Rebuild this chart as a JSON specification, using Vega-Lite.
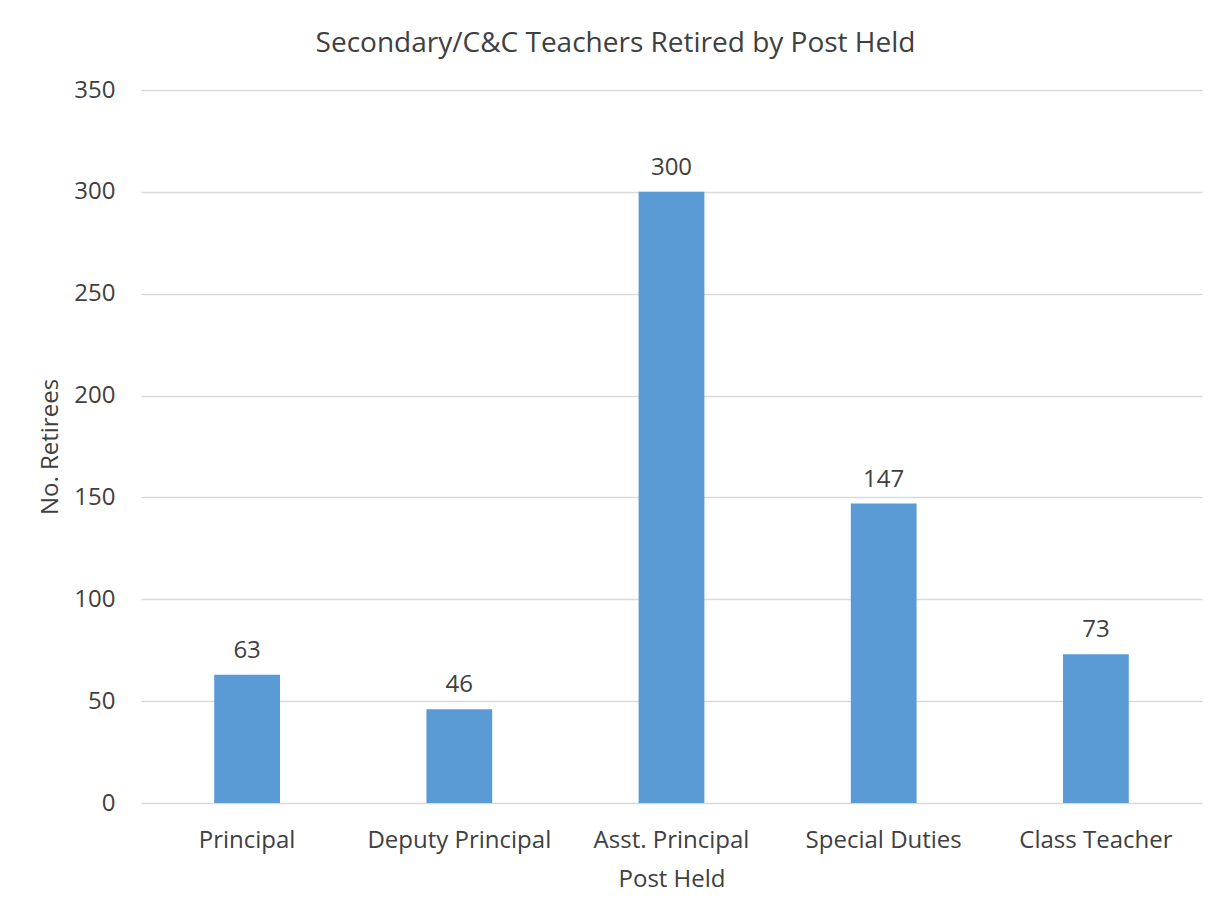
{
  "$schema": "https://vega.github.io/schema/vega-lite/v6.json",
  "width": 1061,
  "height": 713,
  "autosize": {"type": "none"},
  "padding": {"left": 141, "top": 90, "right": 16, "bottom": 112},
  "background": "white",
  "title": {
    "text": "Secondary/C&C Teachers Retired by Post Held",
    "font": "Open Sans",
    "fontSize": 28,
    "fontWeight": "normal",
    "color": "#404040",
    "anchor": "middle",
    "offset": 20,
    "dx": -56
  },
  "data": {
    "values": [
      {"post": "Principal", "retirees": 63},
      {"post": "Deputy Principal", "retirees": 46},
      {"post": "Asst. Principal", "retirees": 300},
      {"post": "Special Duties", "retirees": 147},
      {"post": "Class Teacher", "retirees": 73}
    ]
  },
  "encoding": {
    "x": {
      "field": "post",
      "type": "nominal",
      "sort": null,
      "scale": {"paddingInner": 0.69, "paddingOuter": 0.345},
      "axis": {
        "title": "Post Held",
        "labelAngle": 0,
        "labelLimit": 0,
        "labelOverlap": false,
        "labelFontSize": 24,
        "labelFont": "Open Sans",
        "labelColor": "#404040",
        "labelPadding": 25,
        "titleFont": "Open Sans",
        "titleFontSize": 24,
        "titleFontWeight": "normal",
        "titleColor": "#404040",
        "titlePadding": 15,
        "ticks": false,
        "domain": false,
        "grid": false
      }
    },
    "y": {
      "field": "retirees",
      "type": "quantitative",
      "scale": {"domain": [0, 350]},
      "axis": {
        "title": "No. Retirees",
        "values": [0, 50, 100, 150, 200, 250, 300, 350],
        "labelFontSize": 24,
        "labelFont": "Open Sans",
        "labelColor": "#404040",
        "labelPadding": 26,
        "titleFont": "Open Sans",
        "titleFontSize": 24,
        "titleFontWeight": "normal",
        "titleColor": "#404040",
        "titlePadding": 11,
        "ticks": false,
        "domain": false,
        "grid": true,
        "gridColor": "#d9d9d9",
        "gridWidth": 1.3
      }
    }
  },
  "layer": [
    {"mark": {"type": "bar", "color": "#5b9bd5"}},
    {
      "mark": {"type": "text", "dy": -24, "font": "Open Sans", "fontSize": 24, "color": "#404040"},
      "encoding": {"text": {"field": "retirees", "type": "quantitative"}}
    }
  ],
  "config": {"view": {"stroke": null}}
}
